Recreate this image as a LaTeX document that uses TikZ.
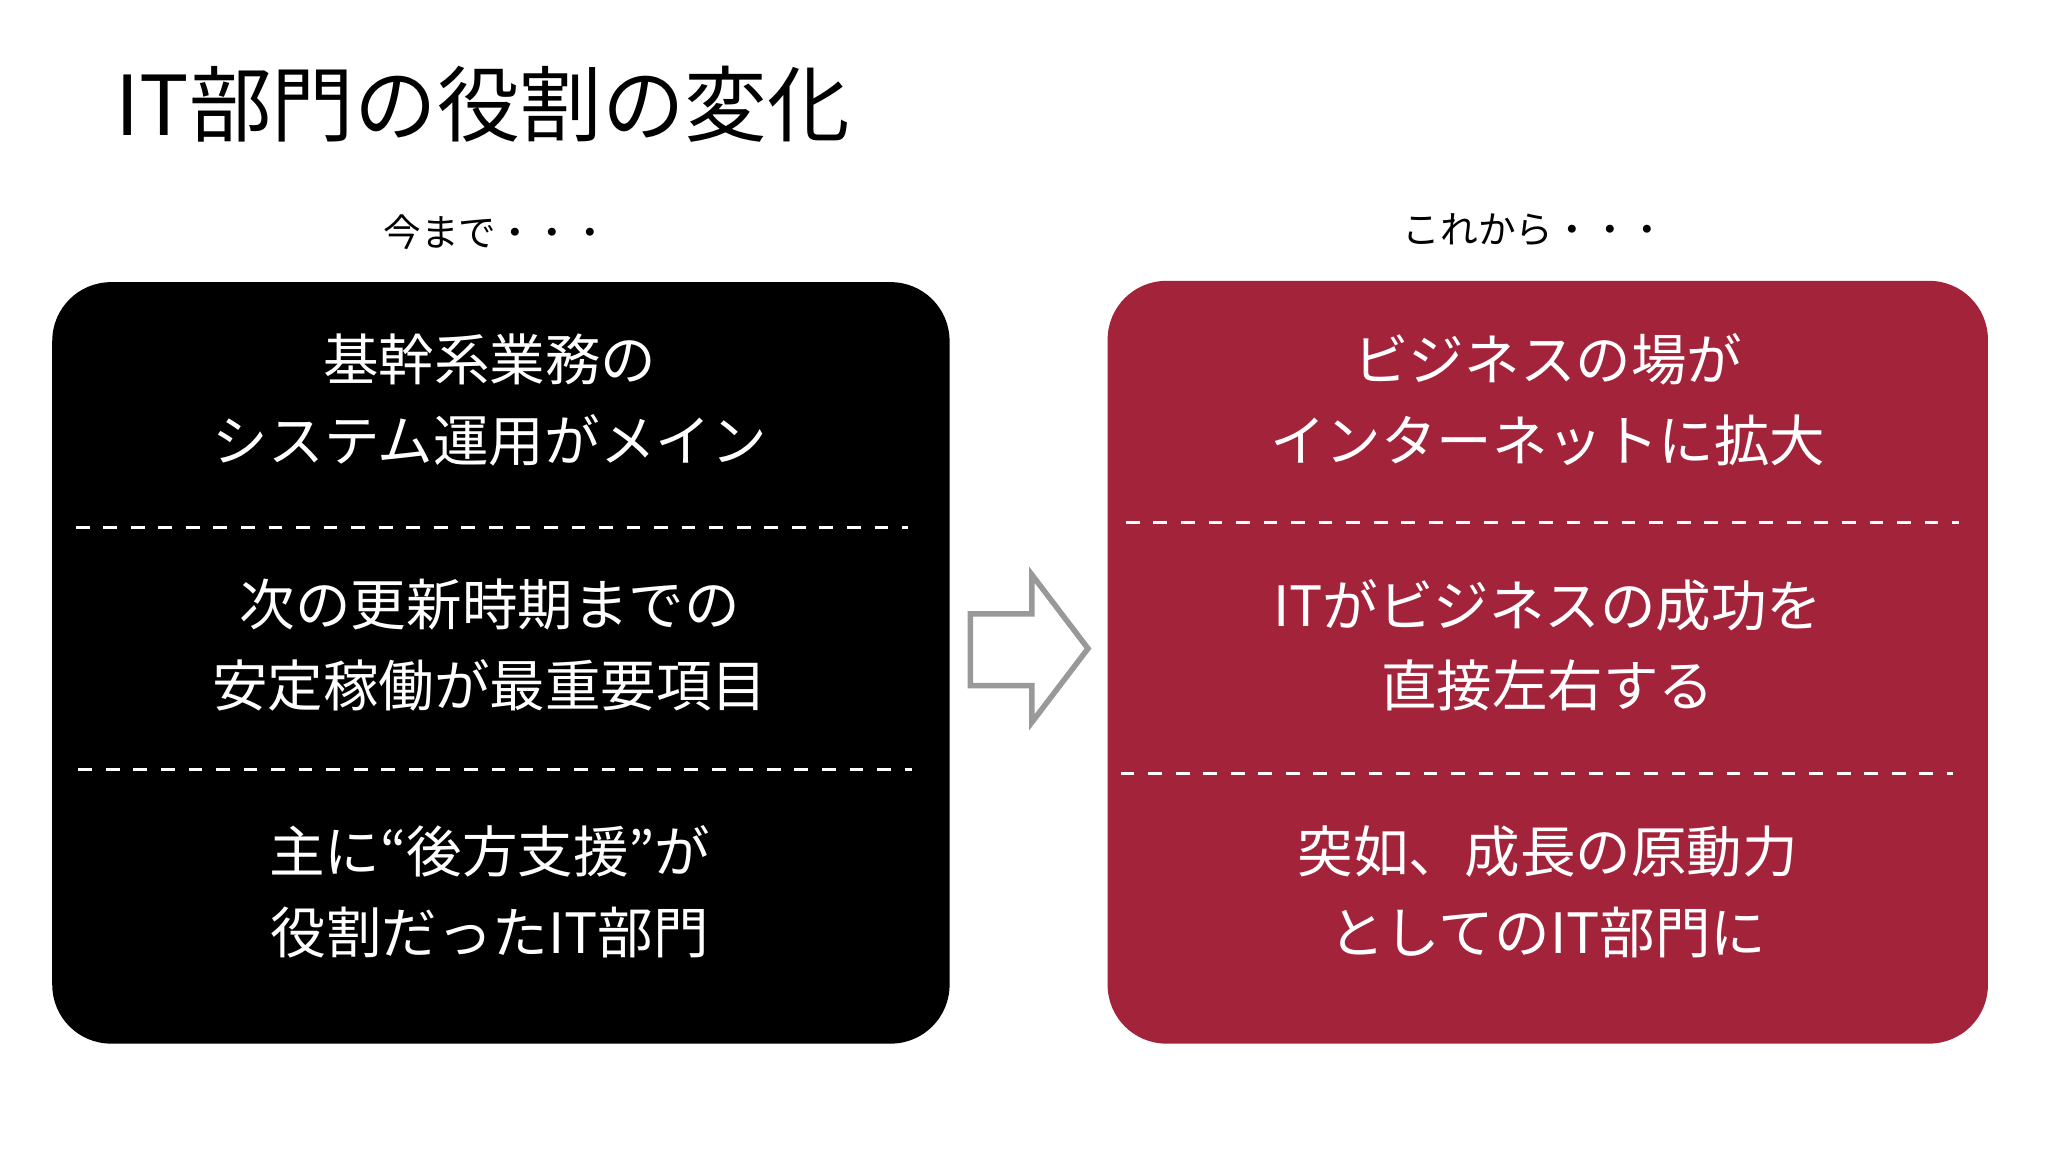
\documentclass[tikz,border=0pt]{standalone}
\usepackage{fontspec}
\setmainfont{Noto Sans CJK JP}
\definecolor{wine}{HTML}{A2233A}
\tikzset{
 panel/.style={rounded corners=0.45cm},
 body/.style={text=white,font=\fontsize{12.1pt}{17.6pt}\selectfont,align=center},
 sep/.style={white,dashed,line width=0.6pt},
 lab/.style={font=\fontsize{8.2pt}{10pt}\selectfont}
}
\begin{document}
\begin{tikzpicture}
\useasboundingbox (0,0) rectangle (15.68,-8.82);
\node[anchor=west,font=\fontsize{18pt}{20pt}\selectfont] (title) at (0.76,-0.8) {IT部門の役割の変化};
\node[lab] (l1) at (3.8,-1.78) {今まで・・・};
\node[lab] (l2) at (11.75,-1.76) {これから・・・};
\fill[panel,black] (0.40,-2.16) rectangle (7.27,-7.99);
\fill[panel,wine] (8.48,-2.15) rectangle (15.22,-7.99);
\draw[sep] (0.58,-4.04) -- (6.95,-4.04);
\draw[sep] (0.60,-5.89) -- (6.98,-5.89);
\draw[sep] (8.62,-4.00) -- (15.0,-4.00);
\draw[sep] (8.58,-5.92) -- (14.95,-5.92);
\node[body] (a1) at (3.75,-3.06) {基幹系業務の\\システム運用がメイン};
\node[body] (a2) at (3.75,-4.94) {次の更新時期までの\\安定稼働が最重要項目};
\node[body] (a3) at (3.75,-6.83) {主に“後方支援”が\\役割だったIT部門};
\node[body] (b1) at (11.85,-3.06) {ビジネスの場が\\インターネットに拡大};
\node[body] (b2) at (11.85,-4.94) {ITがビジネスの成功を\\直接左右する};
\node[body] (b3) at (11.85,-6.83) {突如、成長の原動力\\としてのIT部門に};
\draw[gray!80,line width=1.2pt,fill=white,line join=miter]
 (7.43,-4.70) -- (7.90,-4.70) -- (7.90,-4.40) -- (8.33,-4.965) -- (7.90,-5.53) -- (7.90,-5.25) -- (7.43,-5.25) -- cycle;
\end{tikzpicture}
\end{document}
